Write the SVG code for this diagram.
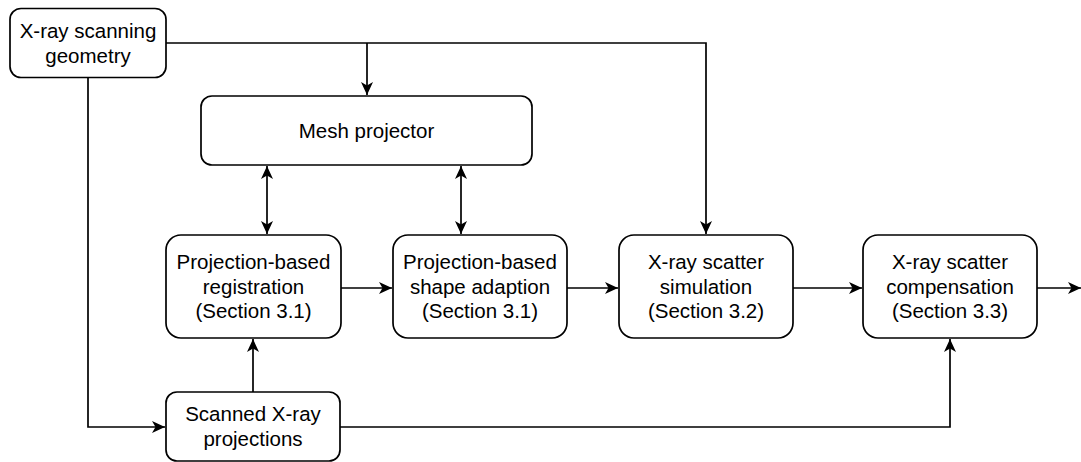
<svg xmlns="http://www.w3.org/2000/svg" width="1081" height="462" viewBox="0 0 1081 462">
<style>
.box{fill:#fff;stroke:#000;stroke-width:1.7}
.t{font-family:"Liberation Sans",Arial,sans-serif;font-size:20.5px;text-anchor:middle;fill:#000}
.c{fill:none;stroke:#000;stroke-width:1.7}
</style>
<defs>
<marker id="ah" markerUnits="userSpaceOnUse" markerWidth="15" markerHeight="13" refX="13" refY="6" orient="auto-start-reverse">
<path d="M0,0 L13,6 L0,12 L3.5,6 Z" fill="#000"/>
</marker>
</defs>
<rect width="1081" height="462" fill="#fff"/>
<g id="connectors">
<path class="c" d="M166,43 H706 V234" marker-end="url(#ah)"/>
<path class="c" d="M367,43 V95" marker-end="url(#ah)"/>
<path class="c" d="M88,77 V427 H165" marker-end="url(#ah)"/>
<path class="c" d="M267,166 V234" marker-start="url(#ah)" marker-end="url(#ah)"/>
<path class="c" d="M461,166 V234" marker-start="url(#ah)" marker-end="url(#ah)"/>
<path class="c" d="M341,288 H392" marker-end="url(#ah)"/>
<path class="c" d="M567,288 H618" marker-end="url(#ah)"/>
<path class="c" d="M793,288 H862" marker-end="url(#ah)"/>
<path class="c" d="M1037,288 H1081" marker-end="url(#ah)"/>
<path class="c" d="M253,392 V339" marker-end="url(#ah)"/>
<path class="c" d="M340,427 H950 V339" marker-end="url(#ah)"/>
</g>
<g id="geometry">
<rect class="box" x="10" y="8.5" width="156" height="69" rx="11"/>
<text class="t" x="88" y="38">X-ray scanning</text>
<text class="t" x="88" y="62.5">geometry</text>
</g>
<g id="mesh">
<rect class="box" x="201" y="96" width="331" height="69" rx="11"/>
<text class="t" x="366.5" y="137.5">Mesh projector</text>
</g>
<g id="registration">
<rect class="box" x="166" y="235" width="175" height="103" rx="15"/>
<text class="t" x="253.5" y="269">Projection-based</text>
<text class="t" x="253.5" y="293.5">registration</text>
<text class="t" x="253.5" y="318">(Section 3.1)</text>
</g>
<g id="shape">
<rect class="box" x="393" y="235" width="174" height="103" rx="15"/>
<text class="t" x="480" y="269">Projection-based</text>
<text class="t" x="480" y="293.5">shape adaption</text>
<text class="t" x="480" y="318">(Section 3.1)</text>
</g>
<g id="simulation">
<rect class="box" x="619" y="235" width="174" height="103" rx="15"/>
<text class="t" x="706" y="269">X-ray scatter</text>
<text class="t" x="706" y="293.5">simulation</text>
<text class="t" x="706" y="318">(Section 3.2)</text>
</g>
<g id="compensation">
<rect class="box" x="863" y="235" width="174" height="103" rx="15"/>
<text class="t" x="950" y="269">X-ray scatter</text>
<text class="t" x="950" y="293.5">compensation</text>
<text class="t" x="950" y="318">(Section 3.3)</text>
</g>
<g id="scanned">
<rect class="box" x="166" y="392" width="174" height="69" rx="11"/>
<text class="t" x="253" y="421">Scanned X-ray</text>
<text class="t" x="253" y="445.5">projections</text>
</g>
</svg>
